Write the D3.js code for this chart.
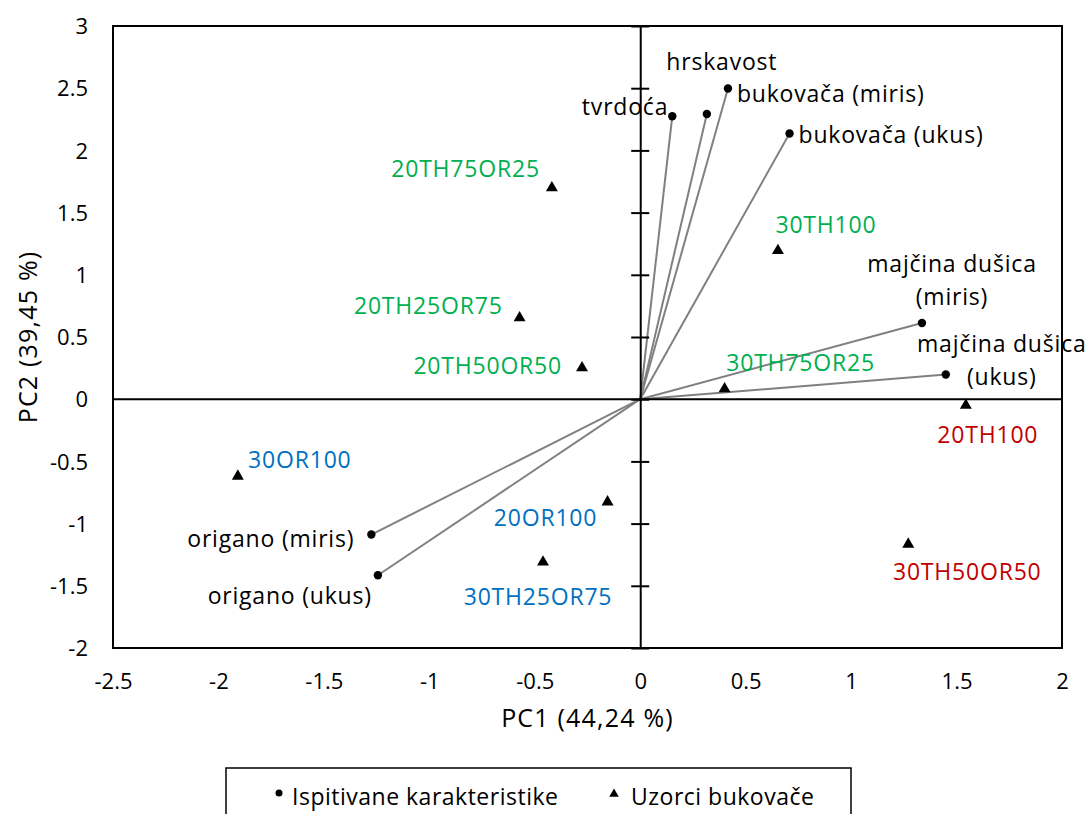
<!DOCTYPE html>
<html>
<head>
<meta charset="utf-8">
<script src="https://cdn.jsdelivr.net/npm/d3@7"></script>
<style>
  html, body { margin: 0; padding: 0; background: #fff; }
  svg text { font-family: "Open Sans", Lato, sans-serif; }
</style>
</head>
<body>
<svg id="chart" width="1089" height="814"></svg>
<script>
// PCA biplot: loadings of the sensory attributes (dots + vectors) and
// scores of the beech-mushroom samples (triangles).

// Attribute loadings
const attrNames = ["tvrdoća", "hrskavost", "bukovača (miris)", "bukovača (ukus)",
  "majčina dušica (miris)", "majčina dušica (ukus)", "origano (miris)", "origano (ukus)"];
const attrPC1 = [0.152, 0.316, 0.416, 0.708, 1.336, 1.449, -1.275, -1.244];
const attrPC2 = [2.275, 2.293, 2.497, 2.136, 0.613, 0.198, -1.088, -1.415];

// Sample scores
const sampleNames = ["20TH75OR25", "20TH25OR75", "20TH50OR50", "30TH100", "30TH75OR25",
  "20TH100", "30TH50OR50", "30OR100", "20OR100", "30TH25OR75"];
const samplePC1 = [-0.419, -0.572, -0.276, 0.653, 0.400, 1.544, 1.271, -1.908, -0.155, -0.461];
const samplePC2 = [1.699, 0.654, 0.252, 1.195, 0.083, -0.050, -1.166, -0.619, -0.826, -1.310];
const sampleGroup = ["green", "green", "green", "green", "green", "red", "red", "blue", "blue", "blue"];

// Axis ticks
const xTicks = [-2.5, -2, -1.5, -1, -0.5, 0, 0.5, 1, 1.5, 2];
const yTicks = [-2, -1.5, -1, -0.5, 0, 0.5, 1, 1.5, 2, 2.5, 3];

const xTitle = "PC1 (44,24 %)";
const yTitle = "PC2 (39,45 %)";
const legendItems = ["Ispitivane karakteristike", "Uzorci bukovače"];

// Styling and label placement
const groupColor = { green: "#00B050", blue: "#0070C0", red: "#C00000" };
const attrLabelPos = {
  "tvrdoća":               { dx: -4,  dy: -1,  anchor: "end" },
  "hrskavost":             { dx: 15,  dy: -44, anchor: "middle" },
  "bukovača (miris)":      { dx: 9,   dy: 13,  anchor: "start" },
  "bukovača (ukus)":       { dx: 9,   dy: 10,  anchor: "start" },
  "majčina dušica (miris)":{ dx: 30,  dy: -51, anchor: "middle", lines: ["majčina dušica", "(miris)"] },
  "majčina dušica (ukus)": { dx: 56,  dy: -23, anchor: "middle", lines: ["majčina dušica", "(ukus)"] },
  "origano (miris)":       { dx: -17, dy: 12,  anchor: "end" },
  "origano (ukus)":        { dx: -6,  dy: 29,  anchor: "end" }
};
const sampleLabelPos = {
  "20TH75OR25": { dx: -12, dy: -19, anchor: "end" },
  "20TH25OR75": { dx: -17, dy: -12, anchor: "end" },
  "20TH50OR50": { dx: -20, dy: -2,  anchor: "end" },
  "30TH100":    { dx: 48,  dy: -26, anchor: "middle" },
  "30TH75OR25": { dx: 76,  dy: -26, anchor: "middle" },
  "20TH100":    { dx: 22,  dy: 30,  anchor: "middle" },
  "30TH50OR50": { dx: 59,  dy: 28,  anchor: "middle" },
  "30OR100":    { dx: 62,  dy: -16, anchor: "middle" },
  "20OR100":    { dx: -62, dy: 16,  anchor: "middle" },
  "30TH25OR75": { dx: -5,  dy: 35,  anchor: "middle" }
};

const svg = d3.select("#chart");
const plot = { left: 113, top: 26, right: 1062, bottom: 648 };
const fontSize = 23;
const tickFont = 22;
const spacing = 0.8;
const fmt = d => String(d);

const x = d3.scaleLinear().domain([-2.5, 2]).range([plot.left, plot.right]);
const y = d3.scaleLinear().domain([-2, 3]).range([plot.bottom, plot.top]);

// Plot frame
svg.append("rect")
  .attr("x", plot.left).attr("y", plot.top)
  .attr("width", plot.right - plot.left).attr("height", plot.bottom - plot.top)
  .attr("fill", "none").attr("stroke", "#000").attr("stroke-width", 2);

// Tick labels along the frame (left and bottom)
svg.append("g")
  .attr("transform", `translate(${plot.left - 25},0)`)
  .call(d3.axisLeft(y).tickValues(yTicks).tickSize(0).tickFormat(fmt))
  .call(g => g.select(".domain").remove())
  .selectAll("text")
  .attr("font-size", tickFont).attr("font-family", null).attr("fill", "#000")
  .attr("x", 0).attr("dy", "0.35em");

svg.append("g")
  .attr("transform", `translate(0,${plot.bottom + 25})`)
  .call(d3.axisBottom(x).tickValues(xTicks).tickSize(0).tickFormat(fmt))
  .call(g => g.select(".domain").remove())
  .selectAll("text")
  .attr("font-size", tickFont).attr("font-family", null).attr("fill", "#000")
  .attr("y", 0).attr("dy", "0.71em");
svg.selectAll(".tick text").style("font-family", "'Open Sans', sans-serif");

// Vectors from the origin to each attribute
const attrs = attrNames.map((n, i) => ({ name: n, pc1: attrPC1[i], pc2: attrPC2[i] }));
svg.append("g").selectAll("line").data(attrs).join("line")
  .attr("x1", x(0)).attr("y1", y(0))
  .attr("x2", d => x(d.pc1)).attr("y2", d => y(d.pc2))
  .attr("stroke", "#808080").attr("stroke-width", 2);

// Zero axes crossing the plot
svg.append("line")
  .attr("x1", plot.left).attr("x2", plot.right).attr("y1", y(0)).attr("y2", y(0))
  .attr("stroke", "#000").attr("stroke-width", 2);
svg.append("g")
  .attr("transform", `translate(${x(0)},0)`)
  .call(d3.axisLeft(y).tickValues(yTicks).tickSizeInner(-9).tickSizeOuter(0).tickFormat(""))
  .call(g => g.select(".domain").attr("stroke-width", 2))
  .call(g => g.selectAll(".tick line").attr("x1", -9).attr("x2", 9).attr("stroke-width", 2));

// Attribute markers and labels
svg.append("g").selectAll("circle").data(attrs).join("circle")
  .attr("cx", d => x(d.pc1)).attr("cy", d => y(d.pc2)).attr("r", 4.2).attr("fill", "#000");

const attrText = svg.append("g").selectAll("text").data(attrs).join("text")
  .attr("x", d => x(d.pc1) + attrLabelPos[d.name].dx)
  .attr("y", d => y(d.pc2) + attrLabelPos[d.name].dy)
  .attr("text-anchor", d => attrLabelPos[d.name].anchor)
  .attr("font-size", fontSize).attr("letter-spacing", spacing).attr("fill", "#000");
attrText.each(function (d) {
  const t = d3.select(this);
  const lines = attrLabelPos[d.name].lines || [d.name];
  lines.forEach((ln, k) => {
    t.append("tspan").attr("x", x(d.pc1) + attrLabelPos[d.name].dx)
      .attr("dy", k === 0 ? 0 : 33).text(ln);
  });
});

// Sample markers and labels
const samples = sampleNames.map((n, i) => ({ name: n, pc1: samplePC1[i], pc2: samplePC2[i], group: sampleGroup[i] }));
const tri = d3.symbol().type(d3.symbolTriangle).size(62);
svg.append("g").selectAll("path").data(samples).join("path")
  .attr("d", tri)
  .attr("transform", d => `translate(${x(d.pc1)},${y(d.pc2)})`)
  .attr("fill", "#000");

svg.append("g").selectAll("text").data(samples).join("text")
  .attr("x", d => x(d.pc1) + sampleLabelPos[d.name].dx)
  .attr("y", d => y(d.pc2) + sampleLabelPos[d.name].dy)
  .attr("dy", "0.35em")
  .attr("text-anchor", d => sampleLabelPos[d.name].anchor)
  .attr("font-size", fontSize).attr("letter-spacing", spacing)
  .attr("fill", d => groupColor[d.group])
  .text(d => d.name);

// Axis titles
svg.append("text")
  .attr("x", (plot.left + plot.right) / 2).attr("y", 718).attr("dy", "0.35em")
  .attr("text-anchor", "middle").attr("font-size", 25).attr("letter-spacing", 1.2).attr("fill", "#000")
  .text(xTitle);
svg.append("text")
  .attr("transform", `translate(28,${(plot.top + plot.bottom) / 2}) rotate(-90)`)
  .attr("dy", "0.35em")
  .attr("text-anchor", "middle").attr("font-size", 25).attr("letter-spacing", 1.2).attr("fill", "#000")
  .text(yTitle);

// Legend
const legend = svg.append("g");
legend.append("rect")
  .attr("x", 226).attr("y", 768).attr("width", 625).attr("height", 70)
  .attr("fill", "#fff").attr("stroke", "#000").attr("stroke-width", 1.5);
legend.append("circle").attr("cx", 279).attr("cy", 793).attr("r", 3.5).attr("fill", "#000");
legend.append("text").attr("x", 292).attr("y", 797).attr("dy", "0.35em")
  .attr("font-size", fontSize).attr("letter-spacing", 0.5).attr("fill", "#000").text(legendItems[0]);
legend.append("path").attr("d", d3.symbol().type(d3.symbolTriangle).size(40))
  .attr("transform", "translate(614,794)").attr("fill", "#000");
legend.append("text").attr("x", 631).attr("y", 797).attr("dy", "0.35em")
  .attr("font-size", fontSize).attr("letter-spacing", 0.5).attr("fill", "#000").text(legendItems[1]);
</script>
</body>
</html>
